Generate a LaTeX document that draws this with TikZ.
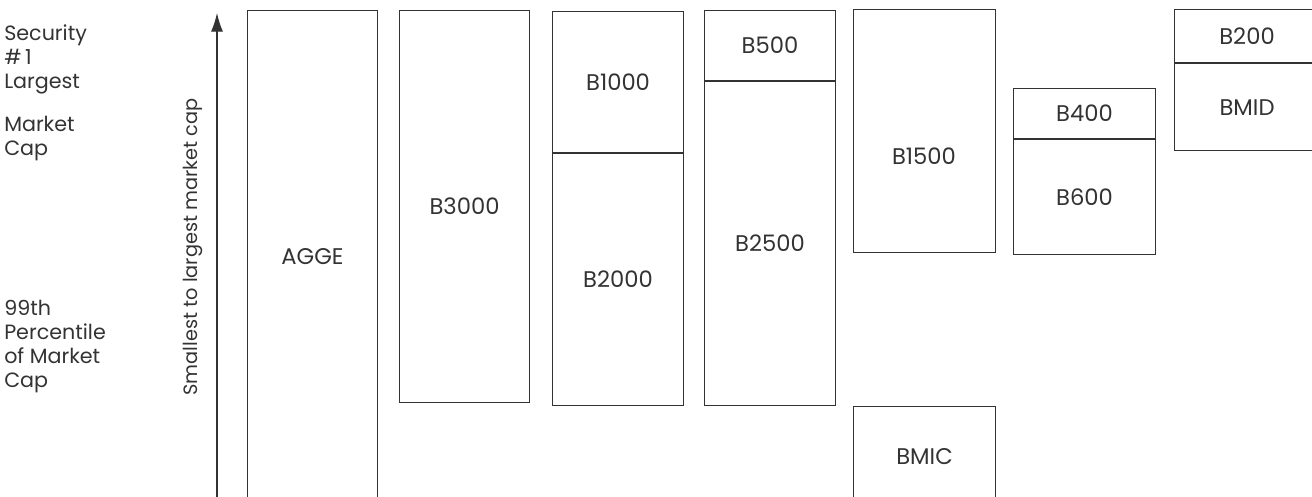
\documentclass[tikz,border=0pt]{standalone}
\usepackage{fontspec}
\setmainfont{Poppins}
\usetikzlibrary{arrows.meta,positioning}
\definecolor{inkgray}{HTML}{333333}
\tikzset{
	seg/.style 2 args={draw=inkgray, line width=0.8pt, anchor=north west, minimum width=#1*0.75pt, minimum height=#2*0.75pt, inner sep=0pt, text=inkgray, font=\fontsize{17}{20}\selectfont},
	under/.style 2 args={seg={#1}{#2}, anchor=north},
	sidetext/.style={anchor=north west, align=left, inner sep=0pt, text=inkgray, font=\fontsize{15.5}{18}\selectfont}
}

\begin{document}
\begin{tikzpicture}[x=0.75pt,y=-0.75pt]
			\clip (0,0) rectangle (1312,496); %page in pixels
			
			% left side texts
			\node[sidetext] (top) at (4,25) {Security\\\#\,1\\Largest};
			\node[sidetext] (mkt) at (4,116) {Market\\Cap};
			\node[sidetext] (pct) at (4,300) {99th\\Percentile\\of Market\\Cap};
			
			% axis
			\coordinate (axbot) at (217,500);
			\coordinate (axtop) at (217,13);
			\draw[inkgray, line width=0.8pt, -{Latex[length=14pt,width=9pt]}] (axbot) -- (axtop);
			\node[rotate=90, anchor=base, inner sep=0pt, text=inkgray, font=\fontsize{14.5}{18}\selectfont] (axlab) at (197,247) {Smallest to largest market cap};
			
			% index boxes, left to right
			\node[seg={130}{492}] (agge) at (247,10) {AGGE};
			\node[seg={130}{392}] (b3000) at (399,10) {B3000};
			\node[seg={131}{141}] (b1000) at (552,11) {B1000};
			\node[under={131}{252}, below=0pt of b1000] (b2000) {B2000};
			\node[seg={131}{70}] (b500) at (704,10) {B500};
			\node[under={131}{324}, below=0pt of b500] (b2500) {B2500};
			\node[seg={142}{243}] (b1500) at (853,9) {};
			\node[text=inkgray, font=\fontsize{17}{20}\selectfont] (b1500lab) at (924,156) {B1500};
			\node[seg={142}{100}] (bmic) at (853,406) {BMIC};
			\node[seg={142}{50}] (b400) at (1013,88) {B400};
			\node[under={142}{115}, below=0pt of b400] (b600) {B600};
			\node[seg={145}{53}] (b200) at (1174,9) {B200};
			\node[under={145}{87}, below=0pt of b200] (bmid) {BMID};
\end{tikzpicture}
\end{document}
